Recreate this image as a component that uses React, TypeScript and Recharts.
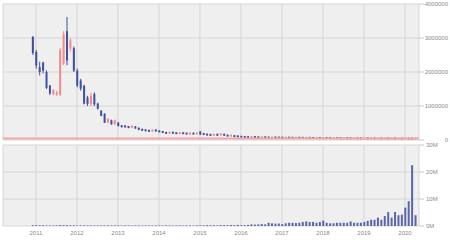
import { ComposedChart, Bar, XAxis, YAxis, CartesianGrid, ReferenceLine } from "recharts";

// monthly candles, Dec 2010 .. Apr 2020 (prices in thousands, volume in millions)
const FIRST_YEAR = 2010;
const FIRST_MONTH = 12;

const OPEN_K = [
  3030, 2590, 2140, 2280, 2000, 1600, 1350, 1330, 1330, 2250, 3200, 2690, 2700,
  2040, 1750, 1600, 1250, 1060, 1350, 1070, 860, 770, 510, 580, 460,
  510, 430, 420, 400, 360, 400, 360, 320, 300, 280, 260, 300,
  270, 250, 220, 200, 230, 210, 190, 210, 200, 180, 200, 180,
  250, 190, 170, 160, 140, 170, 140, 170, 140, 120, 130, 120,
  100, 92, 86, 84, 90, 82, 78, 82, 76, 73, 76, 72,
  70, 68, 71, 67, 65, 68, 64, 62, 65, 61, 59, 62,
  58, 61, 57, 55, 57, 54, 53, 55, 52, 51, 53, 50,
  49, 51, 48, 50, 47, 49, 46, 48, 45, 47, 44, 46,
  43, 45, 42, 40,
];
const HIGH_K = [
  3060, 2650, 2300, 2300, 2050, 1620, 1500, 1450, 2700, 3200, 3620, 3000, 2750,
  2100, 1800, 1620, 1300, 1400, 1400, 1100, 880, 790, 640, 600, 600,
  530, 440, 430, 410, 430, 410, 370, 330, 310, 290, 310, 310,
  280, 260, 230, 240, 240, 220, 220, 220, 210, 210, 210, 220,
  260, 200, 180, 170, 180, 180, 200, 180, 150, 150, 140, 125,
  105, 96, 90, 92, 92, 84, 85, 84, 78, 78, 77, 74,
  72, 73, 72, 69, 69, 69, 66, 66, 66, 62, 63, 63,
  62, 62, 58, 58, 58, 55, 56, 56, 53, 54, 54, 51,
  52, 52, 51, 51, 50, 50, 49, 49, 48, 48, 47, 47,
  46, 46, 44, 45,
];
const LOW_K = [
  2500, 2100, 1900, 1960, 1500, 1320, 1320, 1300, 1300, 2200, 2200, 2600, 2000,
  1550, 1450, 1050, 1000, 1000, 1000, 900, 700, 500, 500, 450, 450,
  400, 370, 370, 350, 350, 330, 290, 270, 260, 250, 250, 250,
  230, 210, 190, 190, 190, 180, 180, 180, 170, 170, 170, 170,
  150, 150, 140, 130, 130, 130, 130, 130, 110, 110, 95, 85,
  85, 82, 80, 82, 80, 76, 76, 74, 71, 71, 70, 68,
  66, 66, 66, 64, 64, 63, 61, 61, 60, 58, 58, 57,
  57, 56, 54, 54, 53, 52, 52, 51, 50, 50, 49, 48,
  48, 47, 47, 46, 46, 45, 45, 44, 44, 43, 43, 42,
  42, 41, 38, 39,
];
const CLOSE_K = [
  2560, 2190, 2000, 2040, 1530, 1370, 1470, 1400, 2640, 3110, 2340, 2930, 2040,
  1600, 1510, 1070, 1060, 1300, 1050, 920, 710, 510, 620, 460, 580,
  410, 380, 380, 360, 420, 340, 300, 280, 270, 260, 300, 260,
  240, 220, 200, 230, 200, 190, 210, 190, 180, 200, 180, 210,
  160, 160, 150, 140, 170, 140, 190, 140, 120, 140, 100, 90,
  90, 86, 84, 90, 82, 78, 83, 76, 73, 76, 72, 70,
  68, 71, 67, 65, 68, 64, 62, 65, 61, 59, 62, 58,
  61, 57, 55, 57, 54, 53, 55, 52, 51, 53, 50, 49,
  51, 48, 50, 47, 49, 46, 48, 45, 47, 44, 46, 43,
  45, 42, 40, 44,
];
const VOLUME_M = [
  0.3, 0.3, 0.25, 0.25, 0.2, 0.2, 0.2, 0.2, 0.3, 0.3, 0.3, 0.25, 0.25,
  0.2, 0.2, 0.2, 0.2, 0.2, 0.2, 0.2, 0.2, 0.2, 0.2, 0.2, 0.2,
  0.2, 0.15, 0.2, 0.2, 0.15, 0.2, 0.2, 0.15, 0.2, 0.2, 0.15, 0.2,
  0.2, 0.15, 0.2, 0.2, 0.15, 0.2, 0.2, 0.15, 0.2, 0.2, 0.15, 0.2,
  0.25, 0.2, 0.3, 0.25, 0.3, 0.2, 0.35, 0.3, 0.3, 0.35, 0.3, 0.4,
  0.3, 0.3, 0.4, 0.6, 0.5, 0.6, 0.7, 0.6, 1.2, 1.0, 0.9, 0.9,
  0.7, 1.0, 1.2, 1.2, 1.1, 1.2, 1.5, 1.7, 1.5, 1.5, 1.2, 1.5,
  2.0, 1.2, 1.0, 1.0, 1.2, 1.2, 1.2, 1.2, 1.7, 1.2, 1.2, 1.2,
  1.5, 1.9, 2.3, 2.3, 3.1, 2.3, 3.7, 5.2, 3.1, 5.2, 4.0, 4.2,
  6.8, 9.2, 22.5, 4.0,
];

const YEAR_TICKS = [0, 12, 24, 36, 48, 60, 72, 84, 96, 108];
const PRICE_TICKS = [0, 1000, 2000, 3000, 4000];
const VOL_TICKS = [0, 10, 20, 30];
const LAST_PRICE_K = 44;

const UP = "#ef8c8c";
const DOWN = "#44509a";
const VOL = "#5b66aa";
const GRID = "#d6d6d6";
const LABEL = "#8a8a8a";
const FONT = "'Liberation Sans', Arial, sans-serif";

// months counted from Jan 2011
const baseT = (FIRST_YEAR - 2011) * 12 + (FIRST_MONTH - 1);
const data = OPEN_K.map((o, i) => ({
  t: baseT + i,
  open: o,
  high: HIGH_K[i],
  low: LOW_K[i],
  close: CLOSE_K[i],
  range: [LOW_K[i], HIGH_K[i]],
  vol: VOLUME_M[i],
}));

const X_DOMAIN = [-9.65, 112.1];

function Candle(props: any) {
  const { x, y, width, height, payload } = props;
  if (x == null || y == null || !payload) return null;
  const top = Math.min(y, y + height);
  const h = Math.abs(height);
  const span = payload.high - payload.low;
  const k = span > 0 ? h / span : 0;
  const yOf = (v: number) => top + (payload.high - v) * k;
  const color = payload.close >= payload.open ? UP : DOWN;
  let bTop = yOf(Math.max(payload.open, payload.close));
  let bH = Math.abs(yOf(payload.open) - yOf(payload.close));
  if (bH < 2) {
    bTop = bTop + bH / 2 - 1;
    bH = 2;
  }
  const cx = x + width / 2;
  return (
    <g>
      <line x1={cx} x2={cx} y1={top} y2={top + h} stroke={color} strokeWidth={1} />
      <rect x={x} y={bTop} width={width} height={bH} fill={color} />
    </g>
  );
}

const PriceTick = ({ y, payload }: any) => (
  <text x={448} y={y} dy={2} textAnchor="end" fontSize={6} fill={LABEL} fontFamily={FONT}>
    {payload.value * 1000}
  </text>
);

const VolTick = ({ y, payload }: any) => (
  <text x={426} y={y} dy={2} textAnchor="start" fontSize={6} fill={LABEL} fontFamily={FONT}>
    {payload.value}M
  </text>
);

const YearTick = ({ x, payload }: any) => (
  <text x={x} y={94} textAnchor="middle" fontSize={6} fill={LABEL} fontFamily={FONT}>
    {2011 + payload.value / 12}
  </text>
);

export default function App() {
  return (
    <div style={{ position: "absolute", left: 0, top: 0, width: 450, height: 240, background: "#fff" }}>
      <div style={{ position: "absolute", left: 0, top: 0 }}>
        <ComposedChart
          width={450}
          height={146}
          data={data}
          margin={{ top: 4, right: 0, left: 3, bottom: 6 }}
        >
          <CartesianGrid fill="#efefef" stroke={GRID} strokeWidth={1} />
          <XAxis
            dataKey="t"
            type="number"
            domain={X_DOMAIN}
            ticks={YEAR_TICKS}
            allowDataOverflow
            hide
          />
          <YAxis
            orientation="right"
            width={31}
            domain={[0, 4000]}
            ticks={PRICE_TICKS}
            interval={0}
            allowDataOverflow
            axisLine={false}
            tickLine={{ stroke: "#c8c8c8" }}
            tickSize={5}
            tick={<PriceTick />}
          />
          <ReferenceLine y={LAST_PRICE_K} stroke="#f2a8a8" strokeWidth={2} />
          <Bar dataKey="range" barSize={2} shape={<Candle />} isAnimationActive={false} />
        </ComposedChart>
      </div>
      <div style={{ position: "absolute", left: 0, top: 141 }}>
        <ComposedChart
          width={450}
          height={99}
          data={data}
          margin={{ top: 4, right: 0, left: 3, bottom: 0 }}
        >
          <CartesianGrid fill="#efefef" stroke={GRID} strokeWidth={1} />
          <XAxis
            dataKey="t"
            type="number"
            domain={X_DOMAIN}
            ticks={YEAR_TICKS}
            interval={0}
            allowDataOverflow
            height={14}
            axisLine={false}
            tickLine={false}
            tick={<YearTick />}
          />
          <YAxis
            orientation="right"
            width={31}
            domain={[0, 30]}
            ticks={VOL_TICKS}
            interval={0}
            allowDataOverflow
            axisLine={false}
            tickLine={{ stroke: "#c8c8c8" }}
            tickSize={5}
            tick={<VolTick />}
          />
          <Bar dataKey="vol" barSize={2} fill={VOL} isAnimationActive={false} />
        </ComposedChart>
      </div>
    </div>
  );
}
